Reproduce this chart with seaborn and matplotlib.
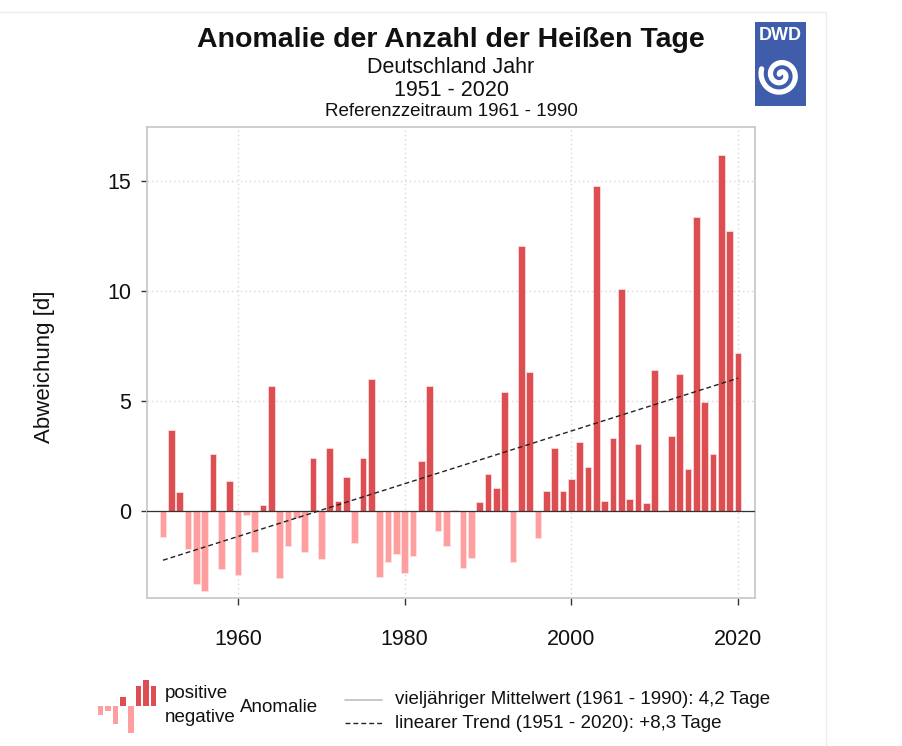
import numpy as np
import pandas as pd
import matplotlib
matplotlib.use("Agg")
import matplotlib.pyplot as plt
import seaborn as sns
from matplotlib.lines import Line2D

# ---------------- data ----------------
years = list(range(1951, 2021))
anomaly = [-1.2, 3.7, 0.85, -1.73, -3.3, -3.64, 2.59, -2.65, 1.36, -2.91,
           -0.2, -1.85, 0.26, 5.7, -3.03, -1.6, -0.3, -1.85, 2.4, -2.2,
           2.85, 0.47, 1.56, -1.47, 2.4, 5.98, -3.0, -2.33, -1.94, -2.8,
           -2.03, 2.29, 5.68, -0.92, -1.6, 0.07, -2.6, -2.15, 0.42, 1.7,
           1.06, 5.39, -2.33, 12.06, 6.3, -1.23, 0.92, 2.85, 0.92, 1.44,
           3.15, 2.0, 14.77, 0.47, 3.33, 10.1, 0.55, 3.03, 0.35, 6.4,
           0.06, 3.42, 6.24, 1.9, 13.36, 4.95, 2.57, 16.17, 12.74, 7.17]
x_ticks = [1960, 1980, 2000, 2020]
y_ticks = [0, 5, 10, 15]
title = "Anomalie der Anzahl der Heißen Tage"
subtitles = ["Deutschland Jahr", "1951 - 2020"]
ref_text = "Referenzzeitraum 1961 - 1990"
legend_pos_neg = ["positive", "negative"]
legend_anom = "Anomalie"
legend_mean = "vieljähriger Mittelwert (1961 - 1990): 4,2 Tage"
legend_trend = "linearer Trend (1951 - 2020): +8,3 Tage"
legend_icon_heights = [-1.0, -0.5, -2.0, 1.0, -3.0, 2.3, 3.0, 2.3]

POS = "#DC4E51"
NEG = "#FF9E9E"

sns.set_theme(style="white")
plt.rcParams["font.family"] = ["Liberation Sans", "DejaVu Sans"]

W, H = 902, 746
fig = plt.figure(figsize=(W / 100, H / 100), dpi=100)
fig.patch.set_facecolor("white")

def fx(px):
    return px / W

def fy(py):
    return 1 - py / H

# main axes
L, R, T, B = 147, 755, 127, 598
ax = fig.add_axes([fx(L), fy(B), fx(R - L), (B - T) / H])

df = pd.DataFrame({"year": years, "anomaly": anomaly})
df["sign"] = np.where(df["anomaly"] >= 0, "pos", "neg")

sns.barplot(data=df, x="year", y="anomaly", hue="sign",
            palette={"pos": POS, "neg": NEG}, native_scale=True,
            dodge=False, width=0.8, legend=False, ax=ax, saturation=1,
            edgecolor="#fde4e4", linewidth=0.5)

# trend
coef = np.polyfit(years, anomaly, 1)
yrs = np.array([years[0], years[-1]])
ax.plot(yrs, np.polyval(coef, yrs), color="#222222", lw=1.0,
        linestyle=(0, (3.5, 2.2)), zorder=5)

ax.axhline(0, color="#333333", lw=0.9, zorder=4)

ax.set_xlim(1949.08, 2022.04)
ax.set_ylim(-3.95, 17.45)
ax.set_xticks(x_ticks)
ax.set_yticks(y_ticks)
ax.set_xticklabels([str(v) for v in x_ticks])
ax.set_yticklabels([str(v) for v in y_ticks])
for v in y_ticks:
    ax.axhline(v, color="#d6d6d6", lw=1, linestyle=(0, (1, 2.2)), zorder=0)
for v in x_ticks:
    ax.axvline(v, color="#d6d6d6", lw=1, linestyle=(0, (1, 2.2)), zorder=0)

ax.tick_params(axis="y", direction="out", length=4.5, width=1, color="#333333",
               pad=7, labelsize=15.5, labelcolor="#111111", left=True)
ax.tick_params(axis="x", direction="out", length=5, width=1, color="#333333",
               pad=17, labelsize=15.5, labelcolor="#111111", bottom=True)
for s in ax.spines.values():
    s.set_color("#c6c6c6")
    s.set_linewidth(1.2)
    s.set_visible(True)
ax.set_xlabel("")
ax.set_ylabel("Abweichung [d]", fontsize=16, color="#111111")
ax.yaxis.set_label_coords(-0.152, 0.49)
ax.set_facecolor("white")

# titles
fig.text(0.5, fy(47), title, ha="center", va="baseline", fontsize=20.5,
         fontweight="bold", color="#111111")
fig.text(0.5, fy(73), subtitles[0], ha="center", va="baseline", fontsize=15.5,
         color="#111111")
fig.text(0.5, fy(96), subtitles[1], ha="center", va="baseline", fontsize=15.5,
         color="#111111")
fig.text(0.5, fy(116), ref_text, ha="center", va="baseline", fontsize=13.5,
         color="#111111")

# faint page borders
fig.add_artist(Line2D([fx(826), fx(826)], [0, fy(12)], color="#ececec", lw=1))
fig.add_artist(Line2D([0, fx(826)], [fy(12), fy(12)], color="#ececec", lw=1))

# DWD logo
lx0, lx1, ly0, ly1 = 755, 806, 22, 106
lax = fig.add_axes([fx(lx0), fy(ly1), fx(lx1 - lx0), (ly1 - ly0) / H])
lax.set_xlim(0, lx1 - lx0)
lax.set_ylim(0, ly1 - ly0)
lax.set_facecolor("#3F5DAB")
for s in lax.spines.values():
    s.set_visible(False)
lax.set_xticks([])
lax.set_yticks([])
lax.text((lx1 - lx0) / 2, 70, "DWD", ha="center", va="center", color="white",
         fontsize=13, fontweight="bold")
th = np.linspace(0.3, 4.0 * np.pi, 300)
rr = 1.0 + 1.5 * th
cx, cy = 25.5, 31
lax.plot(cx + rr * np.cos(-th + np.pi * 0.9), cy + rr * np.sin(-th + np.pi * 0.9),
         color="white", lw=3.8, solid_capstyle="round")

# legend icon
iax = fig.add_axes([fx(96), fy(737), fx(62), 59 / H])
iax.set_xlim(-0.6, len(legend_icon_heights) - 0.4)
iax.set_ylim(-3.5, 3.2)
iax.bar(range(len(legend_icon_heights)), legend_icon_heights, width=0.75,
        color=[POS if h > 0 else NEG for h in legend_icon_heights], linewidth=0)
iax.axis("off")

fig.text(fx(165), fy(694), legend_pos_neg[0], ha="left", va="center",
         fontsize=13.5, color="#111111")
fig.text(fx(165), fy(718), legend_pos_neg[1], ha="left", va="center",
         fontsize=13.5, color="#111111")
fig.text(fx(240), fy(708), legend_anom, ha="left", va="center",
         fontsize=13.5, color="#111111")
fig.add_artist(Line2D([fx(345), fx(382)], [fy(700), fy(700)], color="#bdbdbd", lw=1.2))
fig.add_artist(Line2D([fx(345), fx(382)], [fy(723), fy(723)], color="#222222", lw=1.0,
                      linestyle=(0, (3.5, 2.2))))
fig.text(fx(395), fy(700), legend_mean, ha="left", va="center",
         fontsize=13.5, color="#111111")
fig.text(fx(395), fy(723), legend_trend, ha="left", va="center",
         fontsize=13.5, color="#111111")

fig.savefig("out.png", dpi=100, facecolor="white")
